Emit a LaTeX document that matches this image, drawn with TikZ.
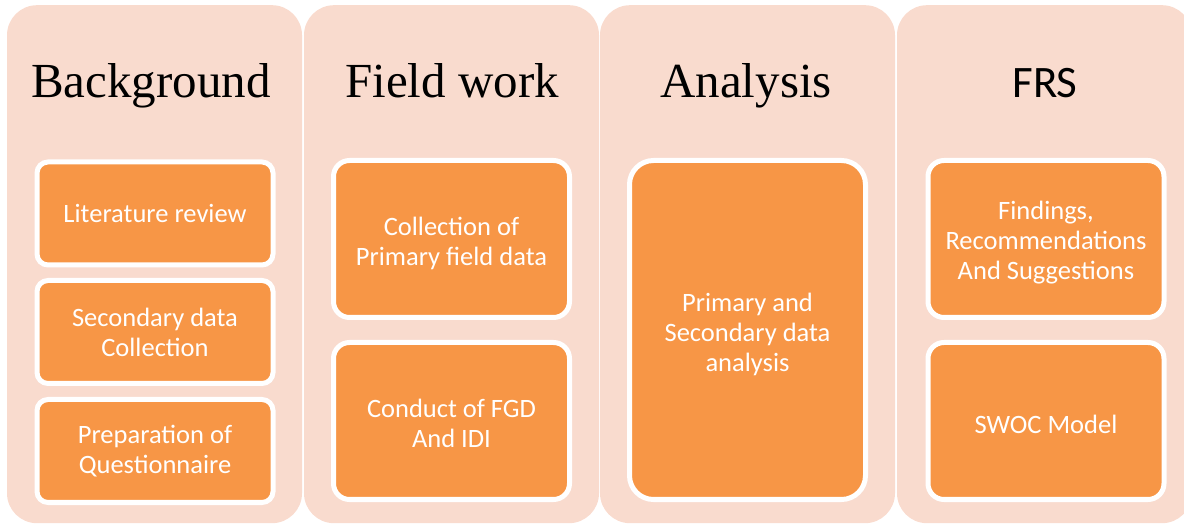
\documentclass[tikz,border=0pt]{standalone}
\usepackage{fontspec}
\newfontfamily\bodysans{Carlito}
\newfontfamily\headserif{Liberation Serif}
\definecolor{panel}{HTML}{F9DBCE}
\definecolor{stepfill}{HTML}{F79646}
\tikzset{
  panel/.style={fill=panel, draw=none, rounded corners=30pt, inner sep=0pt,
    minimum width=295pt, minimum height=518pt, anchor=north},
  heading/.style={anchor=base, inner sep=0pt, text=black,
    font=\headserif\fontsize{49}{58}\selectfont},
  sansheading/.style={anchor=base, inner sep=0pt, text=black,
    font=\bodysans\fontsize{45}{54}\selectfont},
  stepbox/.style={fill=stepfill, draw=white, line width=5pt, inner sep=0pt,
    minimum width=236pt},
  smallbox/.style={stepbox, minimum height=103pt, rounded corners=11pt},
  tallbox/.style={stepbox, minimum height=157pt, rounded corners=16pt},
  steptext/.style={text=white, align=center, inner sep=0pt,
    font=\bodysans\fontsize{26.5}{30}\selectfont},
}
\begin{document}
\begin{tikzpicture}[x=1pt,y=-1pt]
  \useasboundingbox (0,0) rectangle (1184,526);
  \clip (0,0) rectangle (1184,526);

  % column panels
  \node[panel] (col1) at (154.5,5) {};
  \node[panel] (col2) at (451.5,5) {};
  \node[panel] (col3) at (747.5,5) {};
  \node[panel] (col4) at (1044.5,5) {};

  % column headings
  \node[heading] (h1) at (151,98) {Background};
  \node[heading] (h2) at (452,98) {Field work};
  \node[heading] (h3) at (746,98) {Analysis};
  \node[sansheading] (h4) at (1045,98) {FRS};

  % Background
  \node[smallbox] (b1) at (155,213.5) {};
  \node[smallbox] (b2) at (155,332) {};
  \node[smallbox] (b3) at (155,451) {};
  \node[steptext] (b1t) at (b1.center) {Literature review};
  \node[steptext] (b2t) at (b2.center) {Secondary data\\Collection};
  \node[steptext] (b3t) at (b3.center) {Preparation of\\Questionnaire};

  % Field work
  \node[tallbox] (f1) at (451.5,239) {};
  \node[tallbox] (f2) at (451.5,421) {};
  \node[steptext] (f1t) at ([yshift=-4pt]f1.center) {Collection of\\Primary field data};
  \node[steptext] (f2t) at ([yshift=-2.5pt]f2.center) {Conduct of FGD\\And IDI};

  % Analysis
  \node[stepbox, minimum height=339pt, rounded corners=24pt] (a1) at (747.5,330) {};
  \node[steptext] (a1t) at ([yshift=-4pt]a1.center) {Primary and\\Secondary data\\analysis};

  % FRS
  \node[tallbox] (r1) at (1046,239) {};
  \node[tallbox] (r2) at (1046,421) {};
  \node[steptext] (r1t) at ([yshift=-4pt]r1.center) {Findings,\\Recommendations\\And Suggestions};
  \node[steptext] (r2t) at ([yshift=-3pt]r2.center) {SWOC Model};
\end{tikzpicture}
\end{document}
